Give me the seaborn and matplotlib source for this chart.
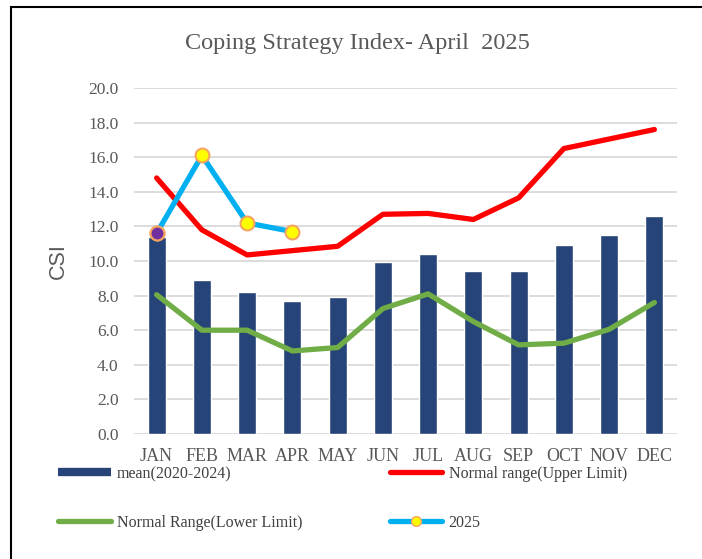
import numpy as np
import pandas as pd
import matplotlib
matplotlib.use("Agg")
import matplotlib.pyplot as plt
from matplotlib.lines import Line2D
from matplotlib.patches import Rectangle
import seaborn as sns

months = ["JAN", "FEB", "MAR", "APR", "MAY", "JUN", "JUL", "AUG", "SEP", "OCT", "NOV", "DEC"]
mean_2020_2024 = [11.4, 8.9, 8.2, 7.7, 7.9, 9.95, 10.4, 9.45, 9.4, 10.9, 11.5, 12.6]
upper_limit = [14.8, 11.8, 10.35, 10.6, 10.85, 12.7, 12.75, 12.4, 13.65, 16.5, 17.05, 17.6]
lower_limit = [8.05, 6.0, 6.0, 4.8, 5.0, 7.25, 8.1, 6.5, 5.15, 5.25, 6.05, 7.6]
y2025 = [11.6, 16.1, 12.2, 11.7]
yticks = [0, 2, 4, 6, 8, 10, 12, 14, 16, 18, 20]

sns.set_theme(style="white")
plt.rcParams["font.family"] = ["Liberation Serif", "DejaVu Serif"]

C_BAR = "#264478"
C_UP = "#FF0000"
C_LOW = "#70AD47"
C_25 = "#00B0F0"
C_TXT = "#595959"

pos = np.arange(len(months))
df = pd.DataFrame({"month": months, "pos": pos, "mean": mean_2020_2024,
                   "upper": upper_limit, "lower": lower_limit})
df25 = pd.DataFrame({"pos": pos[:len(y2025)], "val": y2025})

fig = plt.figure(figsize=(7.02, 5.59), dpi=100)
ax = fig.add_axes([134 / 702, 1 - 434 / 559, (677 - 134) / 702, (434 - 88) / 559])

sns.barplot(data=df, x="pos", y="mean", color=C_BAR, width=0.4, ax=ax,
            saturation=1, native_scale=True, zorder=2)
sns.lineplot(data=df, x="pos", y="upper", color=C_UP, lw=3.8, ax=ax, zorder=3,
             solid_capstyle="round", solid_joinstyle="round")
sns.lineplot(data=df, x="pos", y="lower", color=C_LOW, lw=3.8, ax=ax, zorder=3,
             solid_capstyle="round", solid_joinstyle="round")
sns.lineplot(data=df25, x="pos", y="val", color=C_25, lw=3.8, ax=ax, zorder=4,
             marker="o", markersize=10, markerfacecolor="#FFFF00",
             markeredgecolor="#F4A460", markeredgewidth=1.5,
             solid_capstyle="round", solid_joinstyle="round")
sns.scatterplot(x=df25["pos"].iloc[:1], y=df25["val"].iloc[:1], ax=ax, s=100,
                color="#7030A0", edgecolor="#F4A460", linewidth=1.5, zorder=5)

ax.set_xlim(-0.5, len(months) - 0.5)
ax.set_ylim(0, 20)
ax.set_yticks(yticks)
ax.set_yticklabels([f"{v:.1f}" for v in yticks])
ax.set_xticks(pos)
ax.set_xticklabels(months)
ax.tick_params(axis="y", length=0, pad=11, labelsize=12.5, labelcolor=C_TXT)
ax.tick_params(axis="x", length=0, pad=10, labelsize=13, labelcolor=C_TXT)
ax.grid(axis="y", color="#D9D9D9", lw=1.3, zorder=0)
ax.grid(axis="x", visible=False)
ax.set_axisbelow(True)
for s in ax.spines.values():
    s.set_visible(False)
ax.set_xlabel("")
ax.set_ylabel("CSI", fontsize=15.5, color=C_TXT, family=["Liberation Sans", "DejaVu Sans"],
              labelpad=14)

fig.text(357 / 702, 1 - 43 / 559, "Coping Strategy Index- April  2025",
         ha="center", va="center", fontsize=17.5, color=C_TXT)

handles = [
    Line2D([], [], color=C_BAR, lw=6, solid_capstyle="butt"),
    Line2D([], [], color=C_LOW, lw=3.8, solid_capstyle="round"),
    Line2D([], [], color=C_UP, lw=3.8, solid_capstyle="round"),
    Line2D([], [], color=C_25, lw=3.8, solid_capstyle="round", marker="o",
           markersize=7, markerfacecolor="#FFFF00", markeredgecolor="#F4A460"),
]
labels = ["mean(2020-2024)", "Normal Range(Lower Limit)",
          "Normal range(Upper Limit)", "2025"]
leg = fig.legend(handles, labels, loc="upper left", bbox_to_anchor=(58 / 702, 1 - 466 / 559),
                 ncol=2, frameon=False, fontsize=11.5, handlelength=3.3,
                 handletextpad=0.4, columnspacing=5.45, labelspacing=2.05,
                 borderpad=0, borderaxespad=0)
for t in leg.get_texts():
    t.set_color("#404040")

fig.add_artist(Rectangle((11 / 702, -0.1), 1.2, 1.1 - 7 / 559, transform=fig.transFigure,
                         fill=False, edgecolor="black", lw=1.5))

fig.savefig("out.png", dpi=100)
